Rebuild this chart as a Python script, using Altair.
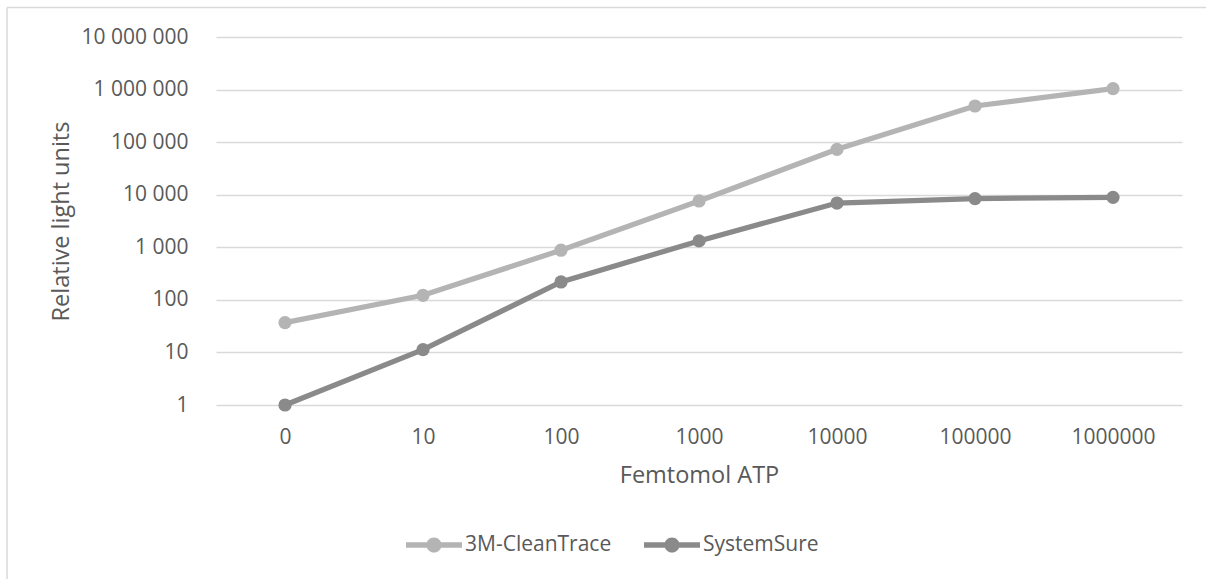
import altair as alt
import pandas as pd

categories = ["0", "10", "100", "1000", "10000", "100000", "1000000"]
series_names = ["3M-CleanTrace", "SystemSure"]
clean_trace = [37, 122, 880, 7600, 73000, 487000, 1045000]
system_sure = [1, 11.3, 219, 1320, 6950, 8450, 8900]
y_ticks = [1, 10, 100, 1000, 10000, 100000, 1000000, 10000000]

rows = []
for name, vals in zip(series_names, [clean_trace, system_sure]):
    for c, v in zip(categories, vals):
        rows.append({"series": name, "atp": c, "rlu": v})
df = pd.DataFrame(rows)

TEXT = "#595959"
FONT = "Open Sans"
W, H = 966, 368
PL, PT = 216, 37

legend_path = (
    "M-1,-0.1L1,-0.1L1,0.1L-1,0.1Z "
    "M0.27,0A0.27,0.27 0 1,1 -0.27,0A0.27,0.27 0 1,1 0.27,0Z"
)

legend = alt.Legend(
    title=None,
    orient="none",
    direction="horizontal",
    legendX=190,
    legendY=480,
    symbolType=legend_path,
    symbolSize=3136,
    symbolStrokeWidth=0,
    symbolOpacity=1,
    labelFontSize=21,
    labelFont=FONT,
    labelColor=TEXT,
    labelOffset=3,
    columnPadding=32,
    padding=0,
)

color = alt.Color(
    "series:N",
    scale=alt.Scale(domain=series_names, range=["#b4b4b4", "#8a8a8a"]),
    sort=series_names,
    legend=legend,
)

x_enc = alt.X(
    "atp:N",
    sort=categories,
    scale=alt.Scale(type="point", padding=0.5),
    axis=alt.Axis(
        title="Femtomol ATP",
        labelAngle=0,
        labelFontSize=21,
        labelColor=TEXT,
        labelFont=FONT,
        labelBaseline="alphabetic",
        labelPadding=38,
        ticks=False,
        tickSize=0,
        domain=False,
        grid=False,
        titleFontSize=23.5,
        titleFont=FONT,
        titleColor=TEXT,
        titleFontWeight="normal",
        titleBaseline="alphabetic",
        titleY=77,
        titleX=W / 2,
        titleAlign="center",
    ),
)

y_enc = alt.Y(
    "rlu:Q",
    scale=alt.Scale(type="log", domain=[1, 10000000], nice=False),
    axis=alt.Axis(
        title="Relative light units",
        values=y_ticks,
        labelExpr="replace(format(datum.value, ','), regexp(',', 'g'), ' ')",
        labelFontSize=21,
        labelColor=TEXT,
        labelFont=FONT,
        labelPadding=28,
        ticks=False,
        tickSize=0,
        domain=False,
        grid=True,
        gridColor="#d9d9d9",
        gridWidth=1.5,
        titleFontSize=23.5,
        titleFont=FONT,
        titleColor=TEXT,
        titleFontWeight="normal",
        titleAngle=-90,
        titleBaseline="alphabetic",
        titleAlign="center",
        titleX=-148,
        titleY=H / 2,
    ),
)

lines = alt.Chart(df).mark_line(strokeWidth=5.25, opacity=1).encode(
    x=x_enc, y=y_enc, color=color, detail="series:N"
)

points = alt.Chart(df).mark_point(filled=True, size=175, opacity=1, shape="circle").encode(
    x=x_enc, y=y_enc, color=color
)

frame = alt.Data(values=[{"k": 1}])
border_left = alt.Chart(frame).mark_rule(stroke="#d9d9d9", strokeWidth=1.5).encode(
    x=alt.value(7 - PL),
    y=alt.value(7.5 - PT),
    y2=alt.value(579 - PT + 50),
)
border_top = alt.Chart(frame).mark_rule(stroke="#d9d9d9", strokeWidth=1.5).encode(
    x=alt.value(7 - PL),
    x2=alt.value(1206 - PL + 50),
    y=alt.value(7.5 - PT),
)

chart = alt.layer(border_left, border_top, lines, points).properties(
    width=W,
    height=H,
    autosize=alt.AutoSizeParams(type="none"),
    padding={"left": PL, "top": PT, "right": 1206 - PL - W, "bottom": 579 - PT - H},
    background="white",
).configure_view(stroke=None)

chart.save("out.html", embed_options={"renderer": "svg", "actions": False})
